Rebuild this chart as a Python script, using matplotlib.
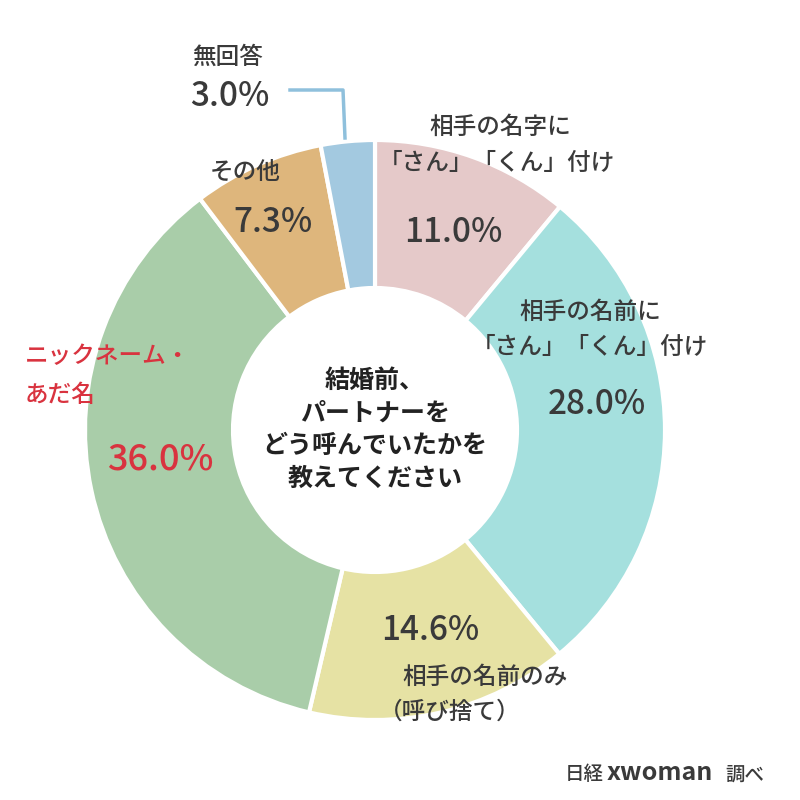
import matplotlib
matplotlib.use("Agg")
import matplotlib.pyplot as plt

categories = ["相手の名字に「さん」「くん」付け", "相手の名前に「さん」「くん」付け",
              "相手の名前のみ（呼び捨て）", "ニックネーム・あだ名", "その他", "無回答"]
values = [11.0, 28.0, 14.6, 36.0, 7.3, 3.0]
colors = ["#e5c9c9", "#a5e0de", "#e6e2a4", "#a9cda9", "#deb67c", "#a3c9e0"]

FONT = "Noto Sans CJK JP"
plt.rcParams["font.family"] = FONT
fig = plt.figure(figsize=(8, 8), dpi=100)
ax = fig.add_axes([0, 0, 1, 1])

cx, cy, R = 375, 370, 290
ax.pie(values, colors=colors, startangle=90, counterclock=False, center=(cx, cy), radius=R,
       wedgeprops=dict(width=R - 142, edgecolor="white", linewidth=3), frame=True)
ax.set_xlim(0, 800); ax.set_ylim(0, 800); ax.set_aspect("equal"); ax.axis("off")

tc = "#3a3a3a"; red = "#d9333f"
def T(x, y, s, size=17, c=tc, ha="center", w="medium"):
    ax.text(x, 800 - y, s, fontsize=size, color=c, ha=ha, va="center", fontweight=w)

T(228, 57, "無回答")
T(230, 97, "3.0%", 24)
ax.plot([290, 343, 345], [710, 710, 662], color="#8fc0dc", lw=2.5)
T(500, 127, "相手の名字に")
T(497, 163, "「さん」「くん」付け")
T(453, 232, "11.0%", 24)
T(590, 312, "相手の名前に")
T(590, 348, "「さん」「くん」付け")
T(597, 405, "28.0%", 24)
T(430, 630, "14.6%", 24)
T(485, 677, "相手の名前のみ")
T(450, 712, "（呼び捨て）")
T(25, 357, "ニックネーム・", c=red, ha="left")
T(25, 395, "あだ名", c=red, ha="left")
T(160, 460, "36.0%", 26, c=red)
T(245, 172, "その他")
T(273, 222, "7.3%", 24)
ax.text(cx, cy, "結婚前、\nパートナーを\nどう呼んでいたかを\n教えてください", fontsize=18,
        fontweight="bold", color="#222", ha="center", va="center", linespacing=1.45)
T(565, 775, "日経", 14, ha="left")
T(607, 773, "xwoman", 18, ha="left", w="bold")
T(725, 775, "調べ", 14, ha="left")
fig.savefig("out.png", dpi=100, facecolor="white")
